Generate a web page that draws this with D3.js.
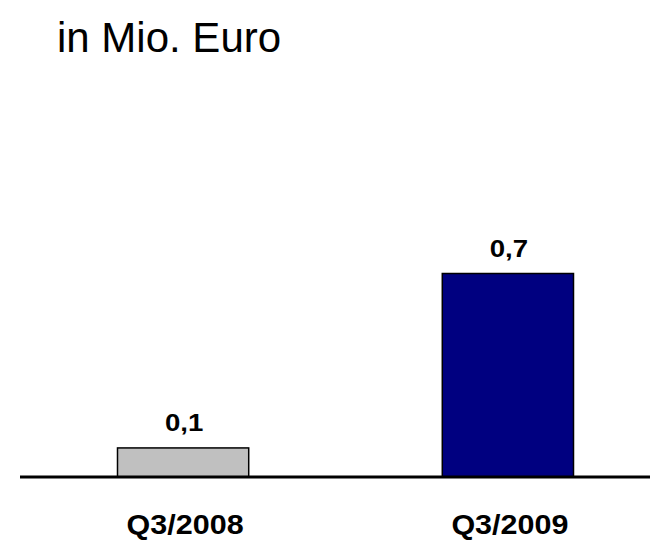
<!DOCTYPE html>
<html>
<head>
<meta charset="utf-8">
<script src="https://cdn.jsdelivr.net/npm/d3@7"></script>
<style>
  html, body { margin: 0; padding: 0; background: #fff; }
  svg { display: block; }
</style>
</head>
<body>
<svg id="chart" width="650" height="540"></svg>
<script>
// Quarterly result, in million euro
const categories = ["Q3/2008", "Q3/2009"];
const values = [0.1, 0.7];
const valueLabels = ["0,1", "0,7"];
const barColors = ["#c0c0c0", "#000080"];
const unitLabel = "in Mio. Euro";

const svg = d3.select("#chart");
const font = "Arial, 'Liberation Sans', Helvetica, sans-serif";

const x = d3.scaleBand()
  .domain(categories)
  .range([117.5, 573.5])
  .paddingInner(0.596)
  .paddingOuter(0);

const y = d3.scaleLinear()
  .domain([0, 0.7])
  .range([477, 273.5]);

// unit subtitle
svg.append("text")
  .attr("x", 57)
  .attr("y", 52)
  .attr("font-family", font)
  .attr("font-size", 42)
  .attr("fill", "#000")
  .text(unitLabel);

// bars
svg.selectAll("rect.bar")
  .data(categories)
  .join("rect")
  .attr("class", "bar")
  .attr("x", d => x(d))
  .attr("width", x.bandwidth())
  .attr("y", (d, i) => y(values[i]))
  .attr("height", (d, i) => y(0) - y(values[i]))
  .attr("fill", (d, i) => barColors[i])
  .attr("stroke", "#000")
  .attr("stroke-width", 1.5);

// baseline
svg.append("line")
  .attr("x1", 20).attr("x2", 650)
  .attr("y1", y(0)).attr("y2", y(0))
  .attr("stroke", "#000")
  .attr("stroke-width", 3);

// value labels (slightly widened bold type)
svg.selectAll("text.value")
  .data(categories)
  .join("text")
  .attr("class", "value")
  .attr("transform", (d, i) => {
    const cx = x(d) + x.bandwidth() / 2 + 1;
    return `translate(${cx},${y(values[i]) - 17}) scale(1.15,1)`;
  })
  .attr("text-anchor", "middle")
  .attr("font-family", font)
  .attr("font-weight", "bold")
  .attr("font-size", 24)
  .attr("fill", "#000")
  .text((d, i) => valueLabels[i]);

// category labels
svg.selectAll("text.cat")
  .data(categories)
  .join("text")
  .attr("class", "cat")
  .attr("transform", d => `translate(${x(d) + x.bandwidth() / 2 + 2},534) scale(1.13,1)`)
  .attr("text-anchor", "middle")
  .attr("font-family", font)
  .attr("font-weight", "bold")
  .attr("font-size", 27)
  .attr("fill", "#000")
  .text(d => d);
</script>
</body>
</html>
